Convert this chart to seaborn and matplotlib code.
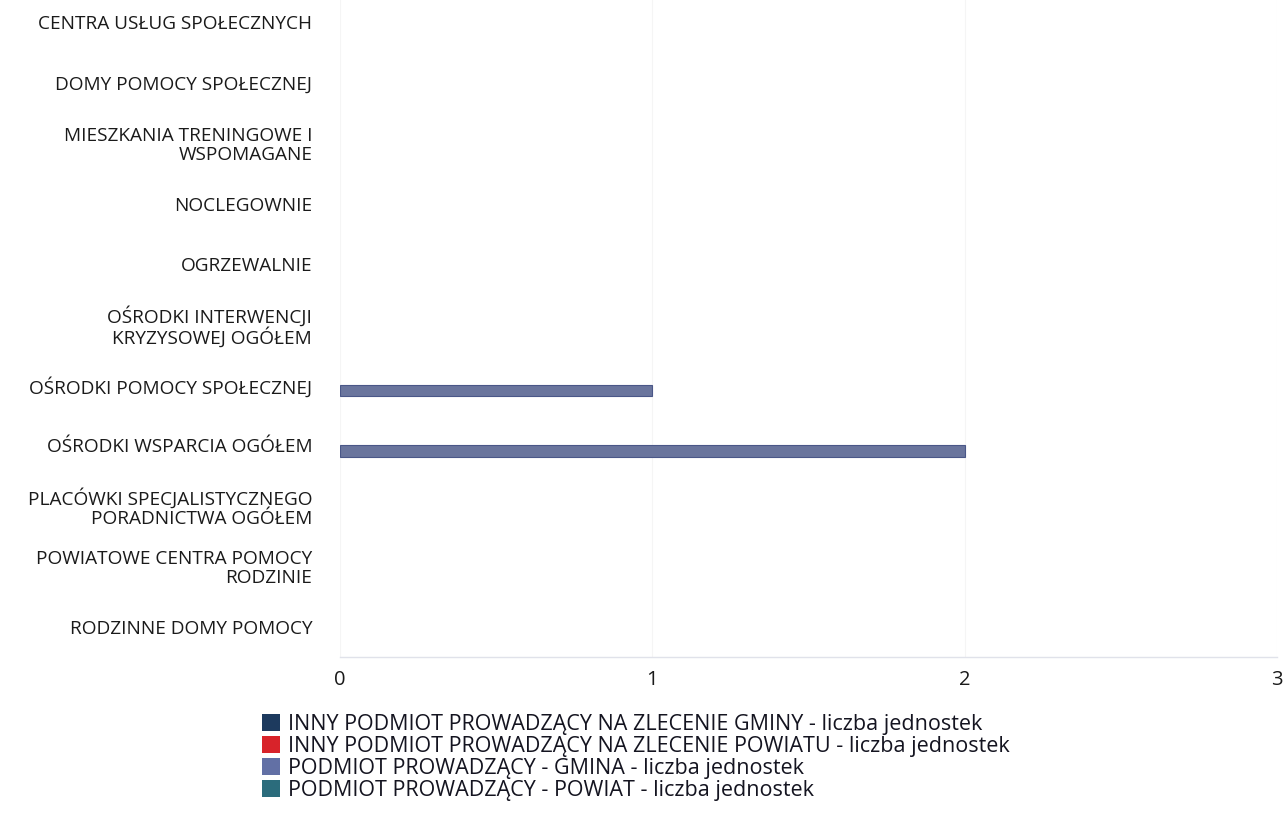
import matplotlib
matplotlib.use("Agg")
import matplotlib.pyplot as plt
import seaborn as sns
import pandas as pd

categories = [
    "CENTRA USŁUG SPOŁECZNYCH",
    "DOMY POMOCY SPOŁECZNEJ",
    "MIESZKANIA TRENINGOWE I\nWSPOMAGANE",
    "NOCLEGOWNIE",
    "OGRZEWALNIE",
    "OŚRODKI INTERWENCJI\nKRYZYSOWEJ OGÓŁEM",
    "OŚRODKI POMOCY SPOŁECZNEJ",
    "OŚRODKI WSPARCIA OGÓŁEM",
    "PLACÓWKI SPECJALISTYCZNEGO\nPORADNICTWA OGÓŁEM",
    "POWIATOWE CENTRA POMOCY\nRODZINIE",
    "RODZINNE DOMY POMOCY",
]

series_names = [
    "INNY PODMIOT PROWADZĄCY NA ZLECENIE GMINY - liczba jednostek",
    "INNY PODMIOT PROWADZĄCY NA ZLECENIE POWIATU - liczba jednostek",
    "PODMIOT PROWADZĄCY - GMINA - liczba jednostek",
    "PODMIOT PROWADZĄCY - POWIAT - liczba jednostek",
]

inny_gmina = [0, 0, 0, 0, 0, 0, 0, 0, 0, 0, 0]
inny_powiat = [0, 0, 0, 0, 0, 0, 0, 0, 0, 0, 0]
gmina = [0, 0, 0, 0, 0, 0, 1, 2, 0, 0, 0]
powiat = [0, 0, 0, 0, 0, 0, 0, 0, 0, 0, 0]

series_colors = ["#1d3a5e", "#d8232a", "#6270a5", "#2b6c7c"]
x_ticks = [0, 1, 2, 3]

rows = []
for name, vals in zip(series_names, [inny_gmina, inny_powiat, gmina, powiat]):
    for cat, v in zip(categories, vals):
        rows.append({"kategoria": cat, "podmiot": name, "liczba": v})
df = pd.DataFrame(rows)

sns.set_theme(style="white")
plt.rcParams["font.family"] = ["Open Sans", "DejaVu Sans"]

fig = plt.figure(figsize=(12.85, 8.13), dpi=100)
ax = fig.add_axes([340 / 1285, 1 - 657 / 813, (1277 - 340) / 1285, (657 + 8) / 813])

sns.barplot(
    data=df, y="kategoria", x="liczba", hue="podmiot", orient="h",
    order=categories, hue_order=series_names, palette=series_colors,
    width=0.76, dodge=True, legend=False, ax=ax,
    linewidth=0, errorbar=None,
)
# thin darker outline only on the drawn (non-zero) bars
for patch in ax.patches:
    if patch.get_width() > 0:
        patch.set_edgecolor("#4a5788")
        patch.set_linewidth(0.8)

ax.set_xlim(0, 3)
ax.set_ylim(10.5, -0.5)
ax.set_xticks(x_ticks)
ax.set_xticklabels([str(t) for t in x_ticks], fontsize=14.5, color="#1a1a1a")
ax.tick_params(axis="x", length=0, pad=9)
ax.tick_params(axis="y", length=0, pad=20)
for lab in ax.get_yticklabels():
    lab.set_fontsize(13.7)
    lab.set_color("#1a1a1a")
    lab.set_multialignment("right")
    lab.set_linespacing(1.05)
ax.set_xlabel("")
ax.set_ylabel("")
ax.grid(axis="x", color="#f5f5f5", linewidth=0.8)
ax.set_axisbelow(True)
for side in ["top", "right", "left"]:
    ax.spines[side].set_visible(False)
ax.spines["bottom"].set_color("#e0e2ea")
ax.spines["bottom"].set_linewidth(1.0)

handles = [plt.Rectangle((0, 0), 1, 1, facecolor=c, edgecolor="none") for c in series_colors]
fig.legend(
    handles, series_names, loc="upper left",
    bbox_to_anchor=(262 / 1285, 1 - 714 / 813), frameon=False,
    fontsize=15.5, handlelength=0.85, handleheight=0.85, handletextpad=0.35,
    labelspacing=0.04, borderpad=0.0, borderaxespad=0.0,
    labelcolor="#141420",
)

fig.savefig("out.png", dpi=100)
